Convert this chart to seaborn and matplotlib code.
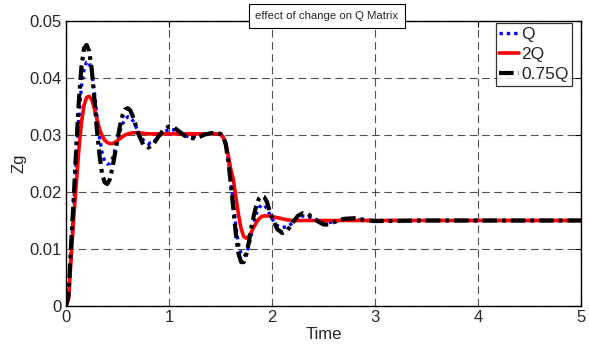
import numpy as np
import pandas as pd
import matplotlib
matplotlib.use("Agg")
import matplotlib.pyplot as plt
import seaborn as sns

# time samples (s)
t = [0, 0.025, 0.05, 0.075, 0.1, 0.125, 0.15, 0.175, 0.2, 0.225, 0.25, 0.275, 0.3,
     0.325, 0.35, 0.375, 0.4, 0.425, 0.45, 0.475, 0.5, 0.525, 0.55, 0.575, 0.6,
     0.625, 0.65, 0.675, 0.7, 0.75, 0.8, 0.85, 0.9, 0.95, 1.0, 1.05, 1.1, 1.15,
     1.2, 1.25, 1.3, 1.35, 1.4, 1.45, 1.5, 1.525, 1.55, 1.575, 1.6, 1.625, 1.65,
     1.675, 1.7, 1.725, 1.75, 1.775, 1.8, 1.825, 1.85, 1.875, 1.9, 1.925, 1.95,
     1.975, 2.0, 2.05, 2.1, 2.15, 2.2, 2.25, 2.3, 2.35, 2.4, 2.45, 2.5, 2.55, 2.6,
     2.7, 2.8, 2.9, 3.0, 3.5, 4.0, 4.5, 5.0]

zg_q = [0, 0.0018, 0.0095, 0.0175, 0.0255, 0.033, 0.0385, 0.0415, 0.0428, 0.0428,
        0.041, 0.0375, 0.0335, 0.0297, 0.0269, 0.0254, 0.0249, 0.025, 0.0258,
        0.0273, 0.029, 0.0307, 0.032, 0.0328, 0.0332, 0.0331, 0.0325, 0.0316,
        0.0306, 0.0291, 0.0285, 0.0288, 0.0297, 0.0305, 0.031, 0.0309, 0.0304,
        0.0299, 0.0297, 0.0297, 0.0299, 0.0301, 0.0302, 0.0302, 0.0301,
        0.0295, 0.0283, 0.0258, 0.0222, 0.018, 0.014, 0.0108, 0.0092, 0.0087,
        0.0091, 0.0105, 0.0126, 0.0146, 0.0163, 0.0173, 0.0177, 0.0177, 0.0171,
        0.0162, 0.0153, 0.0141, 0.0138, 0.0139, 0.0146, 0.0154, 0.0158, 0.0157,
        0.0153, 0.0148, 0.0146, 0.0146, 0.0148, 0.0152, 0.0152, 0.015, 0.015,
        0.015, 0.015, 0.015, 0.015]

zg_2q = [0, 0.0012, 0.0085, 0.0155, 0.0215, 0.0275, 0.0322, 0.0352, 0.0366, 0.0368,
         0.0362, 0.0347, 0.0328, 0.0311, 0.0299, 0.0291, 0.0287, 0.0285, 0.0285,
         0.0287, 0.029, 0.0294, 0.0297, 0.03, 0.0302, 0.0303, 0.0304, 0.0304,
         0.0304, 0.0303, 0.0302, 0.0302, 0.0302, 0.0302, 0.0302, 0.0302, 0.0302,
         0.0302, 0.0302, 0.0302, 0.0302, 0.0302, 0.0302, 0.0302, 0.0302,
         0.0297, 0.0286, 0.0265, 0.024, 0.0222, 0.019, 0.016, 0.0136, 0.0122,
         0.0119, 0.0122, 0.013, 0.0139, 0.0147, 0.0153, 0.0157, 0.0158, 0.0158,
         0.0158, 0.0157, 0.0155, 0.0153, 0.0151, 0.015, 0.015, 0.015, 0.015,
         0.015, 0.015, 0.015, 0.015, 0.015, 0.015, 0.015, 0.015, 0.015, 0.015,
         0.015, 0.015, 0.015]

zg_075q = [0, 0.002, 0.011, 0.019, 0.028, 0.036, 0.042, 0.0452, 0.0458, 0.0447,
           0.0415, 0.0365, 0.031, 0.0265, 0.0232, 0.0217, 0.0214, 0.0222, 0.0242,
           0.0267, 0.0293, 0.0317, 0.0335, 0.0345, 0.0347, 0.0343, 0.0332, 0.0318,
           0.0303, 0.0283, 0.0278, 0.0284, 0.0298, 0.031, 0.0315, 0.0313, 0.0306,
           0.0299, 0.0295, 0.0294, 0.0297, 0.0301, 0.0303, 0.0304, 0.0302,
           0.0296, 0.0285, 0.0255, 0.0215, 0.017, 0.0125, 0.0092, 0.0077, 0.0077,
           0.009, 0.0112, 0.0138, 0.016, 0.0178, 0.0189, 0.0193, 0.0191, 0.0183,
           0.0168, 0.0155, 0.0135, 0.0128, 0.0133, 0.0146, 0.0158, 0.0163, 0.0161,
           0.0155, 0.0148, 0.0143, 0.0143, 0.0147, 0.0153, 0.0154, 0.0151, 0.0149,
           0.015, 0.015, 0.015, 0.015]

labels = ["Q", "2Q", "0.75Q"]

df = pd.DataFrame({"Time": t * 3,
                   "Zg": zg_q + zg_2q + zg_075q,
                   "case": [c for c in labels for _ in t]})

sns.set_style("white")
plt.rcParams['font.family'] = ['Liberation Sans', 'DejaVu Sans']

fig = plt.figure(figsize=(5.89, 3.45), dpi=100)
ax = fig.add_axes([66 / 589, 1 - 306 / 345, (581 - 66) / 589, (306 - 21) / 345])

styles = {
    "Q": dict(color="#0000ff", lw=2.4, ls=(0, (1, 1.2))),
    "2Q": dict(color="#ff0000", lw=2.6, ls="-"),
    "0.75Q": dict(color="black", lw=3.0, ls=(0, (3.5, 1.2, 0.9, 1.2))),
}
for c in labels:
    s = styles[c]
    sns.lineplot(data=df[df["case"] == c], x="Time", y="Zg", ax=ax, label=c,
                 color=s["color"], linewidth=s["lw"], linestyle=s["ls"])

ax.set_xlim(0, 5)
ax.set_ylim(0, 0.05)
ax.set_xticks([0, 1, 2, 3, 4, 5])
ax.set_yticks([0, 0.01, 0.02, 0.03, 0.04, 0.05])
ax.set_yticklabels(["0", "0.01", "0.02", "0.03", "0.04", "0.05"])
ax.grid(True, color="#333333", linestyle=(0, (7, 4)), linewidth=0.8, alpha=0.85)
ax.tick_params(direction="in", length=4, labelsize=12, top=True, right=True,
               color="black", width=0.8, pad=3)
for sp in ax.spines.values():
    sp.set_color("black")
    sp.set_linewidth(1.0)

ax.set_xlabel("Time", fontsize=12, labelpad=1)
ax.set_ylabel("Zg", fontsize=12, labelpad=2)

leg = ax.legend(loc="upper right", bbox_to_anchor=(0.9825, 0.993), fontsize=12.5,
                handlelength=1.1, handletextpad=0.15, labelspacing=0.3, borderpad=0.2,
                borderaxespad=0, frameon=True, fancybox=False, edgecolor="black")
leg.get_frame().set_linewidth(0.9)

fig.text(327 / 589, 1 - 16 / 345, "effect of change on Q Matrix", fontsize=8.2,
         ha="center", va="center",
         bbox=dict(boxstyle="square,pad=0.6", facecolor="white", edgecolor="black",
                   linewidth=0.8))

fig.savefig("out.png", dpi=100)
